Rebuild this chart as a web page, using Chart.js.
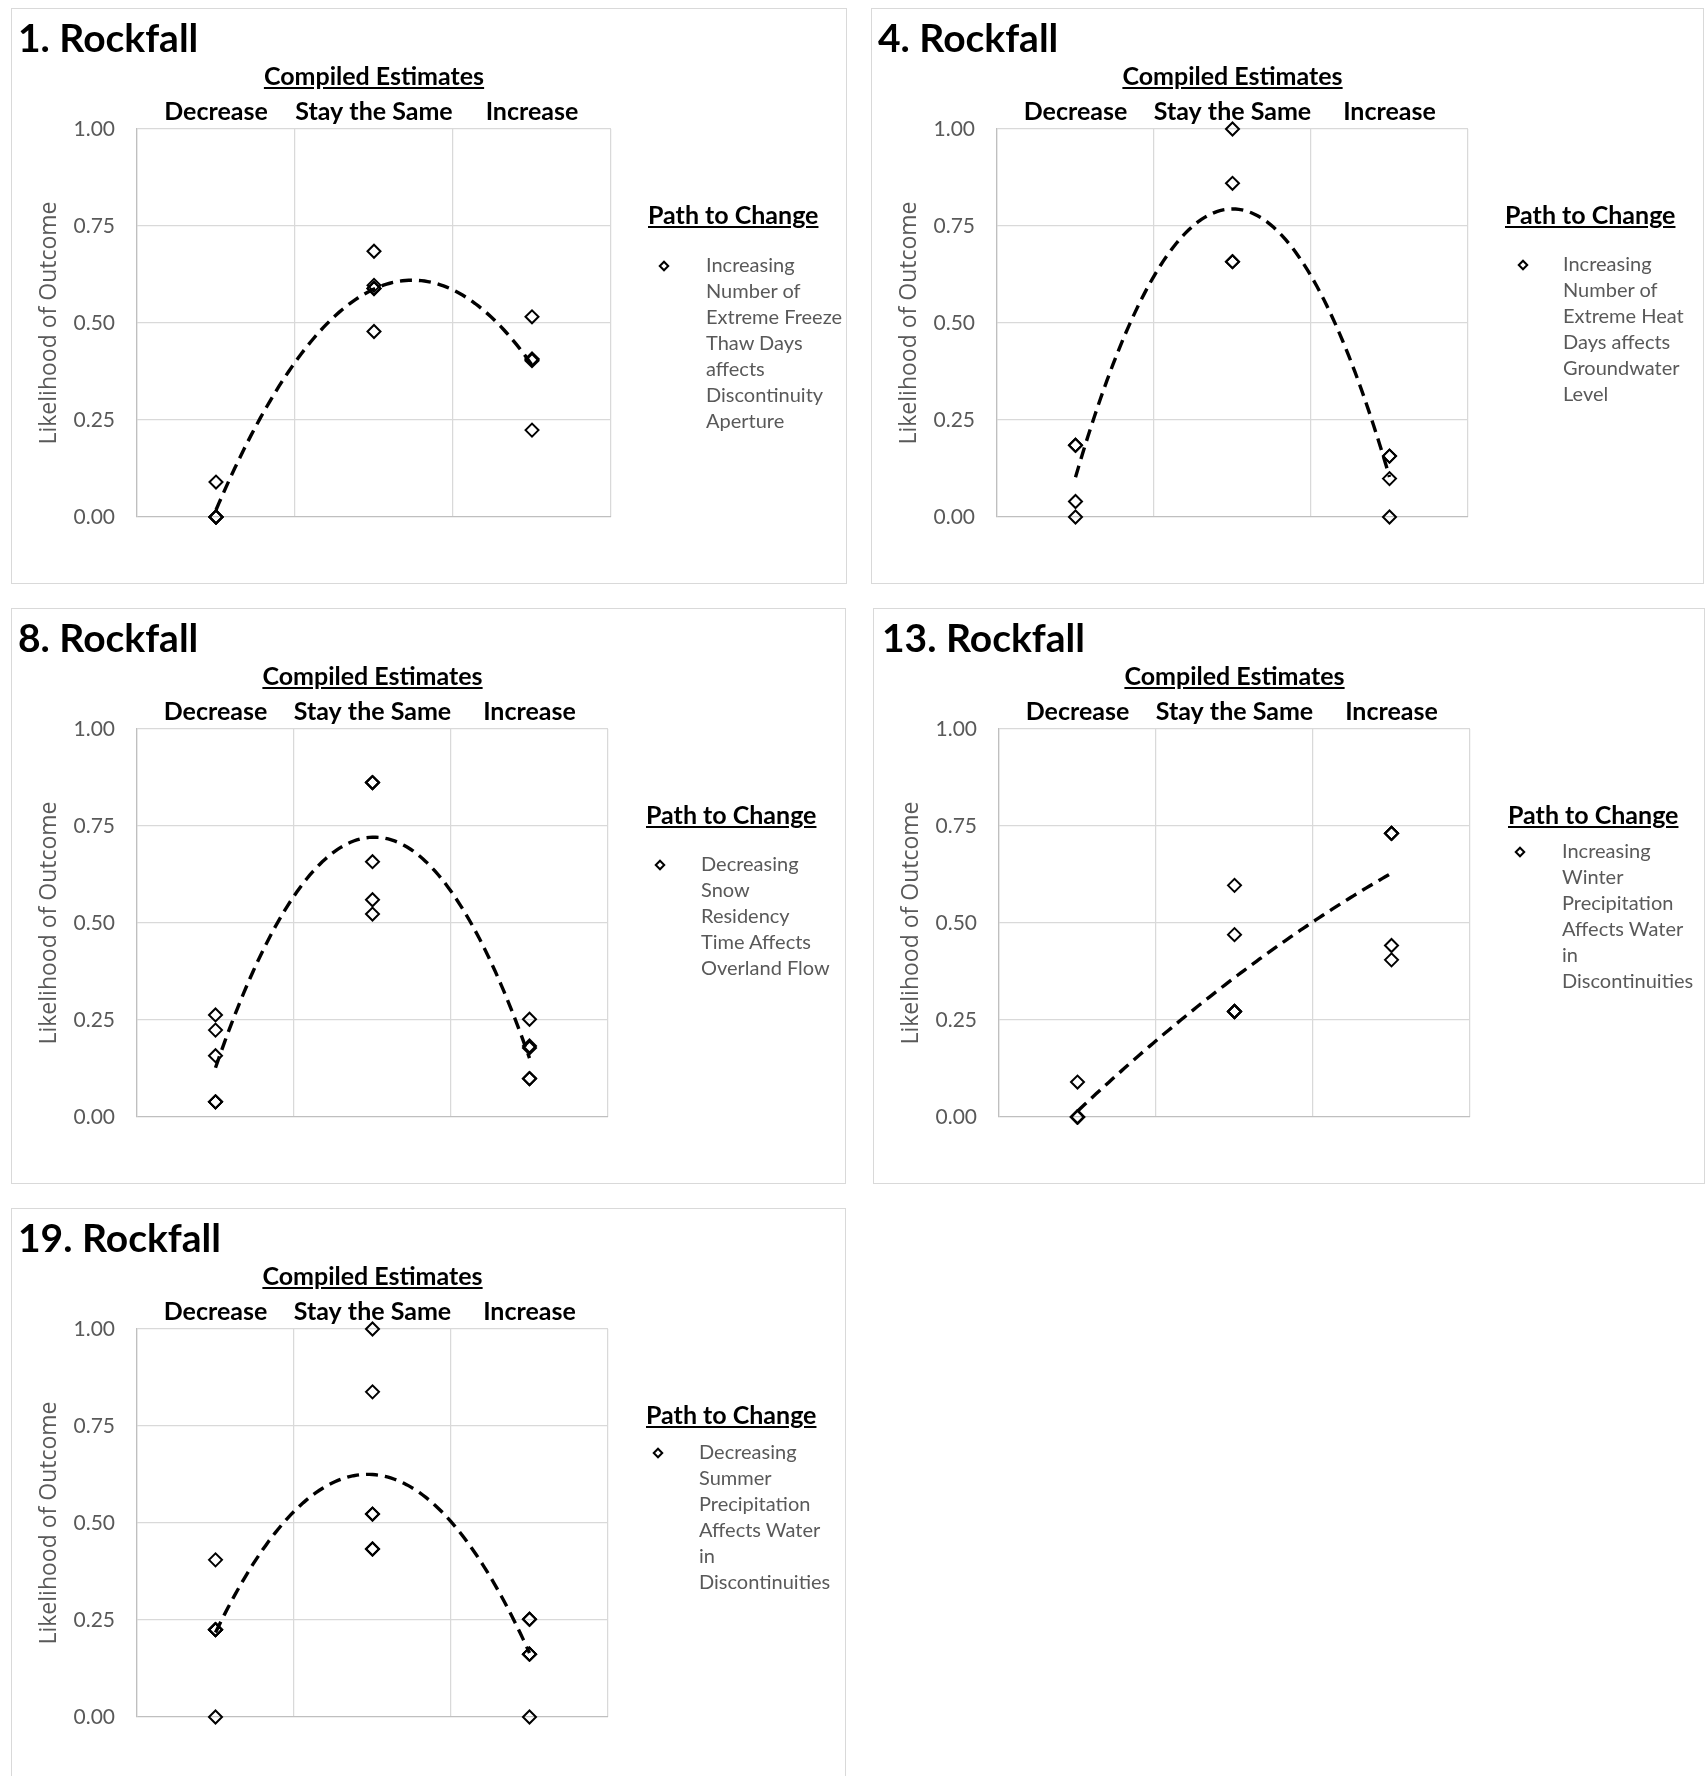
<!DOCTYPE html>
<html>
<head>
<meta charset="utf-8">
<script src="https://cdn.jsdelivr.net/npm/chart.js@4.4.1/dist/chart.umd.min.js"></script>
<style>
  body { margin: 0; background: #fff; width: 1705px; height: 1776px; position: relative; overflow: hidden; font-family: Lato, sans-serif; }
  .panel { position: absolute; background: #fff; box-shadow: inset 0 0 0 1px #d9d9d9; overflow: hidden; }
  .panel canvas { position: absolute; left: 0; top: 0; }
  .title { position: absolute; top: 10px; font: bold 39px/39px Lato; color: #000; white-space: nowrap; }
  .sub { position: absolute; top: 55px; font: bold 25px/25px Lato; color: #000; text-decoration: underline; white-space: nowrap; transform: translateX(-50%); }
  .leg-title { position: absolute; top: 194px; font: bold 25px/25px Lato; color: #000; text-decoration: underline; white-space: nowrap; }
  .leg-mark { position: absolute; width: 8px; height: 8px; box-sizing: border-box; border: 2.2px solid #000; transform: translate(-50%, -50%) rotate(45deg); }
  .leg-text { position: absolute; font: 20px/26px Lato; color: #595959; white-space: nowrap; }
</style>
</head>
<body>
<script>
const categories = ['Decrease', 'Stay the Same', 'Increase'];
const yTicks = [0, 0.25, 0.5, 0.75, 1];

// 1. Rockfall
const rf1Decrease = [0.09, 0, 0, 0, 0];
const rf1Same = [0.685, 0.597, 0.589, 0.589, 0.478];
const rf1Increase = [0.224, 0.403, 0.407, 0.407, 0.516];
const rf1Legend = ['Increasing', 'Number of', 'Extreme Freeze', 'Thaw Days', 'affects', 'Discontinuity', 'Aperture'];

// 4. Rockfall
const rf4Decrease = [0.185, 0.185, 0.04, 0];
const rf4Same = [1.0, 0.86, 0.658, 0.658];
const rf4Increase = [0.157, 0.157, 0.099, 0];
const rf4Legend = ['Increasing', 'Number of', 'Extreme Heat', 'Days affects', 'Groundwater', 'Level'];

// 8. Rockfall
const rf8Decrease = [0.263, 0.224, 0.158, 0.039, 0.039, 0.039];
const rf8Same = [0.523, 0.56, 0.658, 0.862, 0.862, 0.862];
const rf8Increase = [0.252, 0.178, 0.183, 0.099, 0.099, 0.099];
const rf8Legend = ['Decreasing', 'Snow', 'Residency', 'Time Affects', 'Overland Flow'];

// 13. Rockfall
const rf13Decrease = [0.09, 0, 0, 0, 0, 0];
const rf13Same = [0.597, 0.47, 0.272, 0.272, 0.272, 0.272];
const rf13Increase = [0.405, 0.442, 0.731, 0.731, 0.731, 0.731];
const rf13Legend = ['Increasing', 'Winter', 'Precipitation', 'Affects Water', 'in', 'Discontinuities'];

// 19. Rockfall
const rf19Decrease = [0.405, 0.225, 0.225, 0.225, 0.225, 0];
const rf19Same = [1.0, 0.838, 0.523, 0.523, 0.433, 0.433];
const rf19Increase = [0.252, 0.252, 0.162, 0.162, 0.162, 0];
const rf19Legend = ['Decreasing', 'Summer', 'Precipitation', 'Affects Water', 'in', 'Discontinuities'];

const panels = [
  { title: '1. Rockfall', left: 11, top: 8, w: 836, h: 576, plotRight: 600, titleX: 7,
    data: [rf1Decrease, rf1Same, rf1Increase], legend: rf1Legend, legX: 637, markX: 653, markY: 258, textX: 695, textY: 243 },
  { title: '4. Rockfall', left: 871, top: 8, w: 833, h: 576, plotRight: 597, titleX: 7,
    data: [rf4Decrease, rf4Same, rf4Increase], legend: rf4Legend, legX: 634, markX: 652, markY: 257, textX: 692, textY: 242 },
  { title: '8. Rockfall', left: 11, top: 608, w: 835, h: 576, plotRight: 597, titleX: 7,
    data: [rf8Decrease, rf8Same, rf8Increase], legend: rf8Legend, legX: 635, markX: 649, markY: 257, textX: 690, textY: 242 },
  { title: '13. Rockfall', left: 873, top: 608, w: 832, h: 576, plotRight: 597, titleX: 9,
    data: [rf13Decrease, rf13Same, rf13Increase], legend: rf13Legend, legX: 635, markX: 647, markY: 244, textX: 689, textY: 229 },
  { title: '19. Rockfall', left: 11, top: 1208, w: 835, h: 580, plotRight: 597, titleX: 7,
    data: [rf19Decrease, rf19Same, rf19Increase], legend: rf19Legend, legX: 635, markX: 647, markY: 245, textX: 688, textY: 230 }
];

// least squares fit y = c0 + c1 x + c2 x^2 (same as the Excel polynomial trendline)
function quadFit(pts) {
  const s = [0, 0, 0, 0, 0], t = [0, 0, 0];
  pts.forEach(p => {
    let xp = 1;
    for (let k = 0; k < 5; k++) {
      s[k] += xp;
      if (k < 3) t[k] += xp * p.y;
      xp *= p.x;
    }
  });
  const m = [[s[0], s[1], s[2]], [s[1], s[2], s[3]], [s[2], s[3], s[4]]];
  const det = a => a[0][0] * (a[1][1] * a[2][2] - a[1][2] * a[2][1])
                 - a[0][1] * (a[1][0] * a[2][2] - a[1][2] * a[2][0])
                 + a[0][2] * (a[1][0] * a[2][1] - a[1][1] * a[2][0]);
  const d = det(m);
  return [0, 1, 2].map(col => {
    const mc = m.map((row, r) => row.map((v, c) => c === col ? t[r] : v));
    return det(mc) / d;
  });
}

function addText(parent, cls, text, x, y) {
  const el = document.createElement('div');
  el.className = cls;
  el.textContent = text;
  if (x !== undefined) el.style.left = x + 'px';
  if (y !== undefined) el.style.top = y + 'px';
  parent.appendChild(el);
  return el;
}

function buildPanel(cfg) {
  const div = document.createElement('div');
  div.className = 'panel';
  div.style.left = cfg.left + 'px';
  div.style.top = cfg.top + 'px';
  div.style.width = cfg.w + 'px';
  div.style.height = cfg.h + 'px';
  document.body.appendChild(div);

  const canvas = document.createElement('canvas');
  canvas.width = cfg.w;
  canvas.height = cfg.h;
  div.appendChild(canvas);

  addText(div, 'title', cfg.title, cfg.titleX);
  addText(div, 'sub', 'Compiled Estimates', (126 + cfg.plotRight) / 2);
  addText(div, 'leg-title', 'Path to Change', cfg.legX);
  const mark = document.createElement('div');
  mark.className = 'leg-mark';
  mark.style.left = cfg.markX + 'px';
  mark.style.top = cfg.markY + 'px';
  div.appendChild(mark);
  cfg.legend.forEach((line, i) => addText(div, 'leg-text', line, cfg.textX, cfg.textY + i * 26));

  // scatter points: x = 1, 2, 3 for the three outcomes
  const pts = [];
  cfg.data.forEach((arr, i) => arr.forEach(v => pts.push({ x: i + 1, y: v })));

  const c = quadFit(pts);
  const trend = [];
  for (let k = 0; k <= 100; k++) {
    const x = 1 + k * 0.02;
    trend.push({ x: x, y: c[0] + c[1] * x + c[2] * x * x });
  }

  new Chart(canvas, {
    type: 'scatter',
    data: {
      datasets: [
        {
          type: 'line',
          data: trend,
          borderColor: '#000',
          borderWidth: 3.4,
          borderDash: [12, 7],
          pointRadius: 0,
          fill: false,
          tension: 0,
          clip: false
        },
        {
          data: pts,
          pointStyle: 'rectRot',
          pointRadius: 6.5,
          pointBorderColor: '#000',
          pointBackgroundColor: 'rgba(0,0,0,0)',
          pointBorderWidth: 2,
          clip: false
        }
      ]
    },
    options: {
      responsive: false,
      animation: false,
      events: [],
      layout: { autoPadding: false, padding: { left: 0, top: 0, right: cfg.w - cfg.plotRight, bottom: cfg.h - 509 } },
      plugins: { legend: { display: false }, tooltip: { enabled: false } },
      scales: {
        x: {
          type: 'linear',
          position: 'top',
          min: 0.5,
          max: 3.5,
          afterBuildTicks: s => { s.ticks = [0.5, 1, 1.5, 2, 2.5, 3, 3.5].map(v => ({ value: v })); },
          afterFit: s => { s.height = 121; },
          grid: {
            drawTicks: false,
            lineWidth: 1.25,
            color: ctx => (ctx.tick && ctx.tick.value % 1 !== 0) ? '#d9d9d9' : 'rgba(0,0,0,0)'
          },
          border: { display: false },
          ticks: {
            padding: 2,
            autoSkip: false,
            maxRotation: 0,
            color: '#000',
            font: { family: 'Lato', size: 25, weight: 'bold' },
            callback: v => Number.isInteger(v) ? categories[v - 1] : ''
          }
        },
        y: {
          min: 0,
          max: 1,
          afterBuildTicks: s => { s.ticks = yTicks.map(v => ({ value: v })); },
          afterFit: s => { s.width = 126; },
          grid: {
            drawTicks: false,
            lineWidth: 1.25,
            color: ctx => (ctx.tick && ctx.tick.value === 0) ? '#bfbfbf' : '#d9d9d9'
          },
          border: { color: '#bfbfbf', width: 1.25 },
          ticks: {
            padding: 22,
            color: '#595959',
            font: { family: 'Lato', size: 21 },
            callback: v => v.toFixed(2)
          },
          title: {
            display: true,
            text: 'Likelihood of Outcome',
            color: '#595959',
            font: { family: 'Open Sans', size: 23 },
            padding: { top: 25, bottom: 0 }
          }
        }
      }
    }
  });
}

panels.forEach(buildPanel);
</script>
</body>
</html>
